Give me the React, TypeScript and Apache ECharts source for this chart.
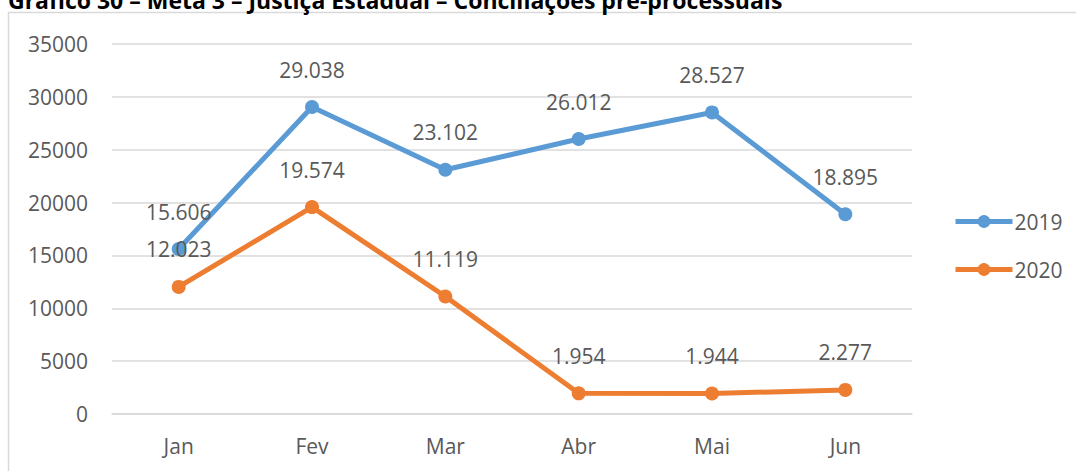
import React, { useEffect, useRef } from "react";
import * as echarts from "echarts";

const categories = ["Jan", "Fev", "Mar", "Abr", "Mai", "Jun"];
const values2019 = [15606, 29038, 23102, 26012, 28527, 18895];
const values2020 = [12023, 19574, 11119, 1954, 1944, 2277];
const seriesNames = ["2019", "2020"];
const titleText = "Gráfico 30 – Meta 3 – Justiça Estadual – Conciliações pré-processuais";

const FONT = "'Open Sans', 'Noto Sans', sans-serif";
const fmt = (v: number) => v.toLocaleString("de-DE");

export default function App() {
  const ref = useRef<HTMLDivElement>(null);
  useEffect(() => {
    if (!ref.current) return;
    const chart = echarts.init(ref.current, undefined, { renderer: "svg" });
    const labelStyle = {
      show: true,
      position: "top" as const,
      distance: 20,
      fontFamily: FONT,
      fontSize: 21,
      color: "#595959",
      formatter: (p: any) => fmt(p.value),
    };
    chart.setOption({
      animation: false,
      backgroundColor: "#ffffff",
      textStyle: { fontFamily: FONT },
      graphic: [
        {
          type: "rect",
          shape: { x: 8.5, y: 12.5, width: 1100, height: 480 },
          style: { fill: "none", stroke: "#d9d9d9", lineWidth: 1.5 },
          silent: true,
        },
        {
          type: "text",
          x: 8,
          y: 11,
          style: {
            text: titleText,
            fontFamily: FONT,
            fontWeight: "bold",
            fontSize: 23,
            fill: "#000000",
            textVerticalAlign: "bottom",
          },
        },
      ],
      legend: {
        orient: "vertical",
        left: 953,
        top: 211,
        padding: 0,
        itemWidth: 57,
        itemHeight: 16,
        itemGap: 27,
        data: seriesNames,
        lineStyle: { width: 5 },
        textStyle: { fontFamily: FONT, fontSize: 21, color: "#595959", padding: [0, 0, 0, -3] },
      },
      grid: { left: 112, right: 164, top: 44, bottom: 57 },
      xAxis: {
        type: "category",
        data: categories,
        boundaryGap: true,
        axisLine: { show: true, lineStyle: { color: "#d9d9d9", width: 1.5 } },
        axisTick: { show: false },
        axisLabel: { fontFamily: FONT, fontSize: 21, color: "#595959", margin: 21 },
      },
      yAxis: {
        type: "value",
        min: 0,
        max: 35000,
        interval: 5000,
        axisLine: { show: false },
        axisTick: { show: false },
        splitLine: { lineStyle: { color: "#d9d9d9", width: 1.5 } },
        axisLabel: {
          fontFamily: FONT,
          fontSize: 21,
          color: "#595959",
          margin: 24,
          formatter: (v: number) => String(v),
        },
      },
      series: [
        {
          name: seriesNames[0],
          type: "line",
          data: values2019,
          symbol: "circle",
          symbolSize: 14,
          color: "#5B9BD5",
          lineStyle: { width: 5, color: "#5B9BD5" },
          itemStyle: { color: "#5B9BD5" },
          label: labelStyle,
        },
        {
          name: seriesNames[1],
          type: "line",
          data: values2020,
          symbol: "circle",
          symbolSize: 14,
          color: "#ED7D31",
          lineStyle: { width: 5, color: "#ED7D31" },
          itemStyle: { color: "#ED7D31" },
          label: labelStyle,
        },
      ],
    });
    return () => chart.dispose();
  }, []);
  return (
    <div
      ref={ref}
      style={{ position: "fixed", left: 0, top: 0, width: 1076, height: 471 }}
    />
  );
}
